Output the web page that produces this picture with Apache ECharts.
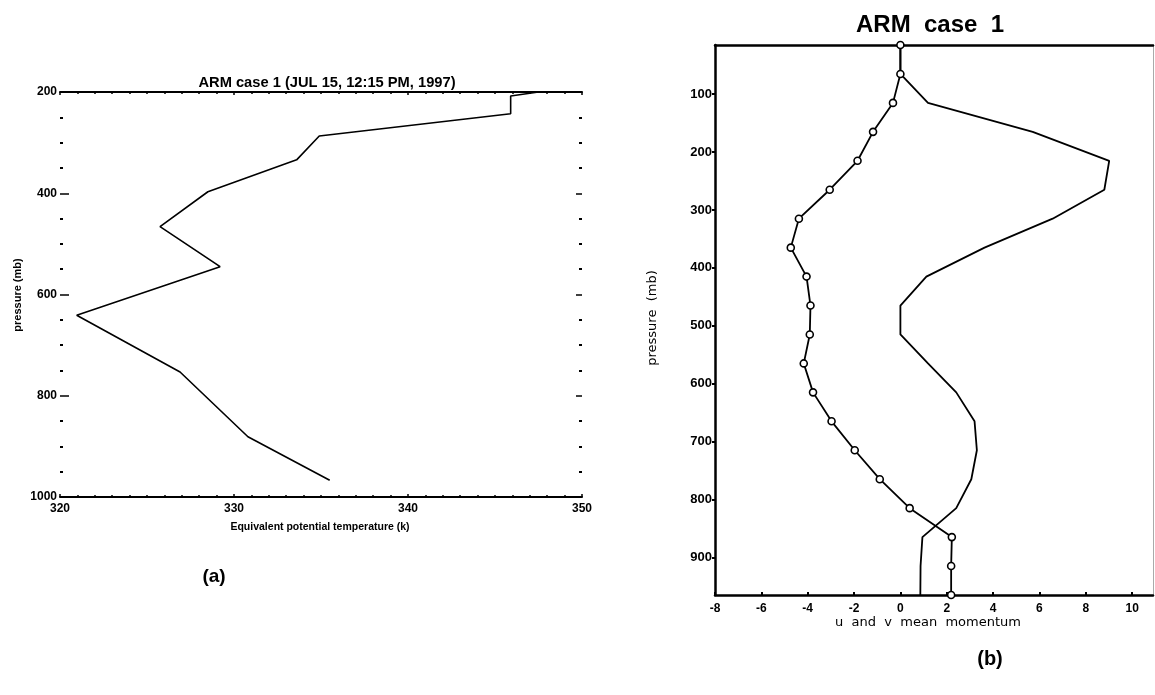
<!DOCTYPE html>
<html>
<head>
<meta charset="utf-8">
<title>ARM case 1</title>
<script src="https://cdn.jsdelivr.net/npm/echarts@6/dist/echarts.min.js"></script>
<style>
  html, body { margin: 0; padding: 0; background: #fff; }
  #chart { width: 1155px; height: 695px; }
</style>
</head>
<body>
<div id="chart"></div>
<script>
// (a) equivalent potential temperature profile
const thetaE = [347.5, 345.9, 345.9, 334.9, 333.6, 328.5, 325.75, 329.2, 320.96, 326.9, 330.8, 335.5];
const thetaPres = [200, 208, 243, 287, 334, 397, 466, 545, 641, 753, 881, 967];

// (b) u and v mean momentum on model levels
const levels = [15, 65, 115, 165, 215, 265, 315, 365, 415, 465, 515, 565, 615, 665, 715, 765, 815, 865, 915, 965];
const uMean = [0.0, 0.0, -0.32, -1.18, -1.85, -3.05, -4.38, -4.73, -4.05, -3.88, -3.91, -4.17, -3.77, -2.97, -1.97, -0.89, 0.4, 2.22, 2.19, 2.19];
const vMean = [0.0, 0.0, 1.19, 5.71, 9.01, 8.8, 6.57, 3.63, 1.12, 0.0, 0.0, 1.19, 2.41, 3.2, 3.3, 3.06, 2.41, 0.95, 0.87, 0.86];

const pressTicksB = [100, 200, 300, 400, 500, 600, 700, 800, 900];
const momTicksB = [-8, -6, -4, -2, 0, 2, 4, 6, 8, 10];

const FONT = 'Liberation Sans';
const pair = (xs, ys) => xs.map((x, i) => [x, ys[i]]);
const plain = v => String(v);

const chart = echarts.init(document.getElementById('chart'), null, { renderer: 'canvas' });

chart.setOption({
  backgroundColor: '#ffffff',
  animation: false,
  title: [
    {
      text: 'ARM case 1 (JUL 15, 12:15 PM, 1997)',
      left: 322, top: 70, textAlign: 'center',
      textStyle: { fontFamily: FONT, fontSize: 14.7, fontWeight: 'bold', color: '#000' }
    },
    {
      text: 'ARM  case  1',
      left: 925, top: 8, textAlign: 'center',
      textStyle: { fontFamily: FONT, fontSize: 24, fontWeight: 'bold', color: '#000' }
    }
  ],
  grid: [
    { left: 60, top: 92, width: 522, height: 405 },
    { left: 715, top: 45, width: 438, height: 550 }
  ],
  xAxis: [
    {
      gridIndex: 0, type: 'value', position: 'bottom',
      min: 320, max: 350, interval: 10,
      axisLine: { show: true, onZero: false, lineStyle: { color: '#000', width: 2 } },
      axisTick: { show: true, inside: true, length: 3, lineStyle: { color: '#000', width: 1.5 } },
      minorTick: { show: true, splitNumber: 10, length: 2, lineStyle: { color: '#000', width: 1.5 } },
      axisLabel: { color: '#000', fontFamily: FONT, fontSize: 12, fontWeight: 'bold', margin: 6, formatter: plain },
      splitLine: { show: false }
    },
    {
      gridIndex: 0, type: 'value', position: 'top',
      min: 320, max: 350, interval: 10,
      axisLine: { show: true, onZero: false, lineStyle: { color: '#000', width: 2 } },
      axisTick: { show: true, inside: true, length: 3, lineStyle: { color: '#000', width: 1.5 } },
      minorTick: { show: true, splitNumber: 10, length: 2, lineStyle: { color: '#000', width: 1.5 } },
      axisLabel: { show: false },
      splitLine: { show: false }
    },
    {
      gridIndex: 1, type: 'value', position: 'bottom',
      min: -8, max: 10.9,
      axisLine: { show: true, onZero: false, lineStyle: { color: '#000', width: 2.5 } },
      axisTick: { show: true, inside: true, length: 3, customValues: momTicksB, lineStyle: { color: '#000', width: 2 } },
      axisLabel: { color: '#000', fontFamily: FONT, fontSize: 12, fontWeight: 'bold', margin: 8, customValues: momTicksB, formatter: plain },
      splitLine: { show: false }
    },
    {
      gridIndex: 1, type: 'value', position: 'top',
      min: -8, max: 10.9,
      axisLine: { show: true, onZero: false, lineStyle: { color: '#000', width: 2.5 } },
      axisTick: { show: false },
      axisLabel: { show: false },
      splitLine: { show: false }
    }
  ],
  yAxis: [
    {
      gridIndex: 0, type: 'value', position: 'left', inverse: true,
      min: 200, max: 1000, interval: 200,
      axisLine: { show: false, onZero: false },
      axisTick: { show: true, inside: true, length: 9, lineStyle: { color: '#000', width: 1.5 } },
      minorTick: { show: true, splitNumber: 4, length: 3, lineStyle: { color: '#000', width: 2 } },
      axisLabel: { color: '#000', fontFamily: FONT, fontSize: 12, fontWeight: 'bold', margin: 3, formatter: plain },
      splitLine: { show: false }
    },
    {
      gridIndex: 0, type: 'value', position: 'right', inverse: true,
      min: 200, max: 1000, interval: 200,
      axisLine: { show: false, onZero: false },
      axisTick: { show: true, inside: true, length: 6, lineStyle: { color: '#000', width: 1.5 } },
      minorTick: { show: true, splitNumber: 4, length: 3, lineStyle: { color: '#000', width: 2 } },
      axisLabel: { show: false },
      splitLine: { show: false }
    },
    {
      gridIndex: 1, type: 'value', position: 'left', inverse: true,
      min: 15, max: 965,
      axisLine: { show: true, onZero: false, lineStyle: { color: '#000', width: 2.5 } },
      axisTick: { show: true, length: 3, customValues: pressTicksB, lineStyle: { color: '#000', width: 2 } },
      axisLabel: { color: '#000', fontFamily: FONT, fontSize: 13, fontWeight: 'bold', margin: 3, customValues: pressTicksB, formatter: plain },
      splitLine: { show: false }
    },
    {
      gridIndex: 1, type: 'value', position: 'right', inverse: true,
      min: 15, max: 965,
      axisLine: { show: true, onZero: false, lineStyle: { color: '#aaa', width: 1 } },
      axisTick: { show: false },
      axisLabel: { show: false },
      splitLine: { show: false }
    }
  ],
  series: [
    {
      name: 'theta-e', type: 'line', xAxisIndex: 0, yAxisIndex: 0,
      data: pair(thetaE, thetaPres),
      showSymbol: false, symbol: 'none',
      lineStyle: { color: '#000', width: 1.6 }
    },
    {
      name: 'v', type: 'line', xAxisIndex: 2, yAxisIndex: 2,
      data: pair(vMean, levels),
      showSymbol: false, symbol: 'none',
      lineStyle: { color: '#000', width: 1.8 }
    },
    {
      name: 'u', type: 'line', xAxisIndex: 2, yAxisIndex: 2,
      data: pair(uMean, levels),
      symbol: 'circle', symbolSize: 7, showAllSymbol: true,
      itemStyle: { color: '#fff', borderColor: '#000', borderWidth: 1.6 },
      lineStyle: { color: '#000', width: 1.8 },
      clip: false
    }
  ],
  graphic: [
    {
      type: 'text', x: 320, y: 527,
      style: { text: 'Equivalent potential temperature (k)', font: 'bold 10.5px "Liberation Sans"', fill: '#000', align: 'center', verticalAlign: 'middle' }
    },
    {
      type: 'text', x: 18, y: 295, rotation: Math.PI / 2,
      style: { text: 'pressure (mb)', font: 'bold 11px "Liberation Sans"', fill: '#000', align: 'center', verticalAlign: 'middle' }
    },
    {
      type: 'text', x: 214, y: 577,
      style: { text: '(a)', font: 'bold 19px "Liberation Sans"', fill: '#000', align: 'center', verticalAlign: 'middle' }
    },
    {
      type: 'text', x: 928, y: 623,
      style: { text: 'u  and  v  mean  momentum', font: '13px "DejaVu Sans"', fill: '#000', align: 'center', verticalAlign: 'middle' }
    },
    {
      type: 'text', x: 653, y: 318, rotation: Math.PI / 2,
      style: { text: 'pressure  (mb)', font: '13px "DejaVu Sans"', fill: '#000', align: 'center', verticalAlign: 'middle' }
    },
    {
      type: 'text', x: 990, y: 659,
      style: { text: '(b)', font: 'bold 20px "Liberation Sans"', fill: '#000', align: 'center', verticalAlign: 'middle' }
    }
  ]
});
</script>
</body>
</html>
